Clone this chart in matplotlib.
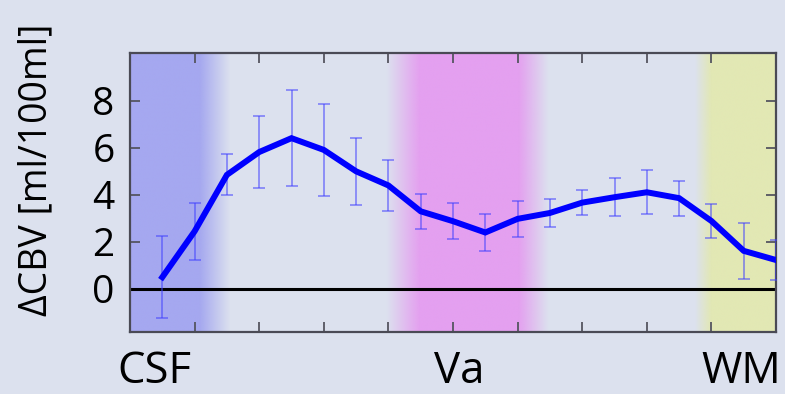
import numpy as np
import matplotlib
matplotlib.use("Agg")
import matplotlib.pyplot as plt
from matplotlib.colors import to_rgb

# Sample positions across the cortical profile (tick units) and measured values
positions = [0.5, 1.0, 1.5, 2.0, 2.5, 3.0, 3.5, 4.0, 4.5, 5.0,
             5.5, 6.0, 6.5, 7.0, 7.5, 8.0, 8.5, 9.0, 9.5, 10.0]
delta_cbv = [0.5, 2.45, 4.85, 5.82, 6.41, 5.91, 5.0, 4.4, 3.3, 2.88,
             2.4, 2.98, 3.23, 3.67, 3.9, 4.11, 3.86, 2.89, 1.62, 1.23]
cbv_err = [1.75, 1.2, 0.87, 1.53, 2.05, 1.94, 1.42, 1.1, 0.75, 0.76,
           0.8, 0.76, 0.58, 0.53, 0.8, 0.94, 0.75, 0.73, 1.2, 0.85]

y_ticks = [0, 2, 4, 6, 8]
x_ticks = [1, 2, 3, 4, 5, 6, 7, 8, 9]
region_labels = ["CSF", "Va", "WM"]
region_label_pos = [0.37, 5.1, 9.46]

# Tissue bands: (fade-in start, solid start, solid end, fade-out end, colour)
bands = [
    (-1.0, -0.5, 1.08, 1.55, "#a5a8f0"),
    (3.97, 4.48, 6.02, 6.48, "#e4a0f0"),
    (8.75, 9.0, 10.5, 11.0, "#e2e8b4"),
]

bg = "#dce1ee"
plt.rcParams["font.family"] = ["Open Sans", "DejaVu Sans"]

fig = plt.figure(figsize=(7.85, 3.94), dpi=100, facecolor=bg)
ax = fig.add_axes([130 / 785, 1 - 332 / 394, (776 - 130) / 785, (332 - 53) / 394])
ax.set_facecolor(bg)

xlim = (0, 10)
ylim = (-1.83, 10.03)

# Soft-edged colour bands
xs = np.linspace(xlim[0], xlim[1], 2000)
for a, b, c, d, col in bands:
    alpha = np.interp(xs, [a, b, c, d], [0, 1, 1, 0])
    img = np.zeros((1, xs.size, 4))
    img[..., :3] = to_rgb(col)
    img[..., 3] = alpha
    ax.imshow(img, extent=(xlim[0], xlim[1], ylim[0], ylim[1]),
              aspect="auto", interpolation="bilinear", zorder=0)

ax.axhline(0, color="black", lw=2.2, zorder=2)

ax.errorbar(positions, delta_cbv, yerr=cbv_err, fmt="none",
            ecolor=(0.25, 0.25, 1.0, 0.55), elinewidth=1.3,
            capsize=4, capthick=1.3, zorder=3)
ax.plot(positions, delta_cbv, color="#0000ff", lw=4.3,
        solid_joinstyle="miter", zorder=4, clip_on=True)

ax.set_xlim(*xlim)
ax.set_ylim(*ylim)
ax.set_xticks(x_ticks)
ax.set_xticklabels([])
ax.set_yticks(y_ticks)
ax.set_yticklabels([str(v) for v in y_ticks], fontsize=28)
ax.tick_params(direction="in", length=7, width=1.3, color="#555560",
               top=True, right=True, pad=11)

for s in ax.spines.values():
    s.set_color("#4a4a55")
    s.set_linewidth(1.6)

for lab, xp in zip(region_labels, region_label_pos):
    ax.text(xp, -4.0, lab, ha="center", va="baseline", fontsize=31.5,
            transform=ax.transData, clip_on=False)

ax.set_ylabel("ΔCBV [ml/100ml]", fontsize=27)
ax.yaxis.label.set_va("center")
ax.yaxis.set_label_coords((36 - 130) / 646, (332 - 170) / 279)

fig.savefig("out.png", dpi=100, facecolor=bg)
